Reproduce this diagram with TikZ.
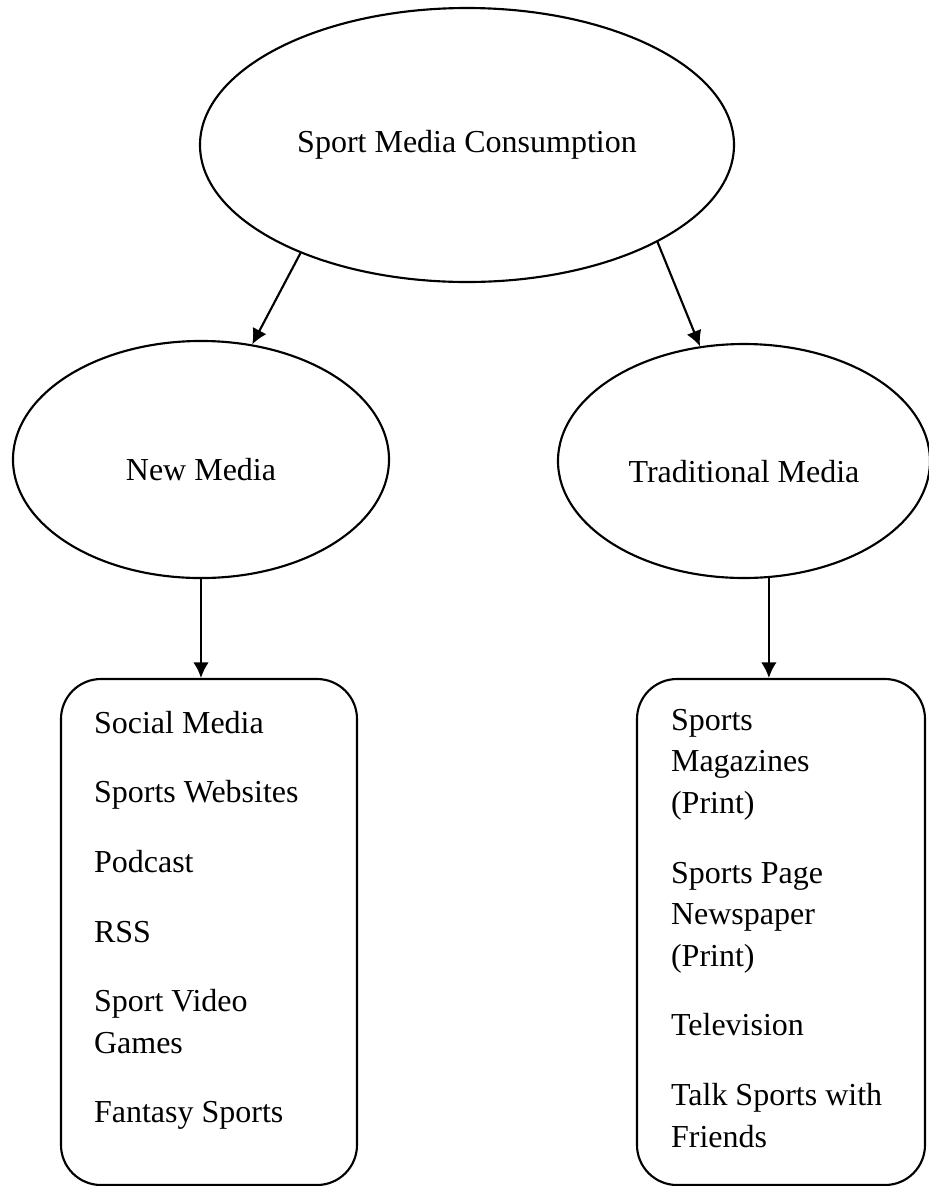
\documentclass[tikz,border=0pt]{standalone}
\usepackage{fontspec}
\setmainfont{Liberation Serif}
\usetikzlibrary{shapes.geometric,arrows.meta}

\begin{document}
\begin{tikzpicture}[x=0.375pt, y=-0.375pt, line width=0.8pt,
	font=\fontsize{12}{15.6}\selectfont,
	oval/.style={ellipse, draw, inner sep=0pt},
	listbox/.style={draw, rounded corners=15pt, inner sep=0pt},
	listtext/.style={align=left, inner sep=0pt, anchor=north west},
	link/.style={-{Latex[length=5.8pt,width=5.8pt]}}]
		
		\useasboundingbox (0,0) rectangle (929,1186);
		
		%Ellipses
		\node[oval, minimum width=200.25pt, minimum height=102.75pt] (top) at (467,145) {Sport Media Consumption};
		\node[oval, minimum width=141pt, minimum height=88.9pt, text height=16pt, text depth=0pt] (newm) at (201,459.5) {New Media};
		\node[oval, minimum width=139.5pt, minimum height=87.75pt, text height=16pt, text depth=0pt] (tradm) at (744,461) {Traditional Media};
		
		%Boxes
		\node[listbox, minimum width=111pt, minimum height=189.75pt] (newbox) at (209,932) {};
		\node[listbox, minimum width=108pt, minimum height=189.75pt] (tradbox) at (781,932) {};
		
		\node[listtext] (newlist) at (93,710) {Social Media\\[10.5pt]
			Sports Websites\\[10.5pt]
			Podcast\\[10.5pt]
			RSS\\[10.5pt]
			Sport Video\\
			Games\\[10.5pt]
			Fantasy Sports};
		\node[listtext] (tradlist) at (670,708) {Sports\\
			Magazines\\
			(Print)\\[10.5pt]
			Sports Page\\
			Newspaper\\
			(Print)\\[10.5pt]
			Television\\[10.5pt]
			Talk Sports with\\
			Friends};
		
		%Arrows
		\draw[link] (top.213) -- (newm.66);
		\draw[link] (top.333) -- (tradm.111);
		\draw[link] (newm.south) -- (newm.south |- newbox.north);
		\draw[link] (tradm.282) -- (tradm.282 |- tradbox.north);
		
\end{tikzpicture}
\end{document}
